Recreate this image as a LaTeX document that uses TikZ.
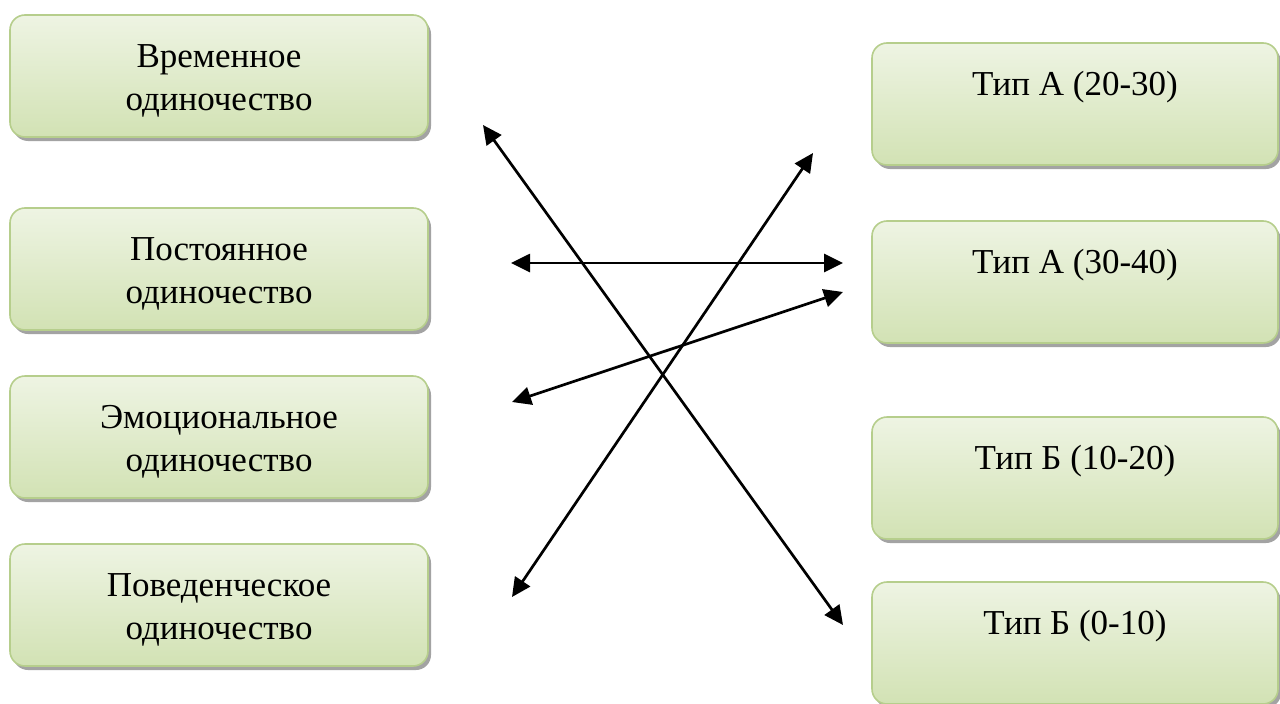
\documentclass[tikz,border=0pt]{standalone}
\usepackage{fontspec}
\setmainfont{Liberation Serif}
\usetikzlibrary{arrows.meta,shadows}
\definecolor{boxborder}{HTML}{B6CE8C}
\definecolor{boxtop}{HTML}{EEF4E3}
\definecolor{boxmid}{HTML}{F8FBF2}
\definecolor{boxbot}{HTML}{D2E2B4}
\definecolor{shadowgray}{HTML}{A3A3A3}
\tikzset{
  card/.style={draw=boxborder, line width=1.6pt, rounded corners=15pt,
    top color=boxtop, middle color=boxmid, bottom color=boxbot,
    general shadow={fill=shadowgray, shadow xshift=3pt, shadow yshift=-4pt},
    inner sep=0pt, align=center,
    font=\fontsize{35}{43}\selectfont},
  leftcard/.style={card, minimum width=418pt, minimum height=122pt,
    text height=68pt, text depth=0pt},
  rightcard/.style={card, minimum width=406pt, minimum height=122pt,
    text height=25pt, text depth=43pt},
  link/.style={line width=2.7pt, black,
    {Triangle[length=19pt,width=18pt]}-{Triangle[length=19pt,width=18pt]}}
}
\begin{document}
\begin{tikzpicture}[x=1pt,y=-1pt]
\useasboundingbox (0,0) rectangle (1280,704);
\clip (0,0) rectangle (1280,704);
\fill[white] (0,0) rectangle (1280,704);
% left column
\node[leftcard] (l1) at (219,76) {Временное\\одиночество};
\node[leftcard] (l2) at (219,269) {Постоянное\\одиночество};
\node[leftcard] (l3) at (219,437) {Эмоциональное\\одиночество};
\node[leftcard] (l4) at (219,605) {Поведенческое\\одиночество};
% right column
\node[rightcard] (r1) at (1075,104) {Тип А (20-30)};
\node[rightcard] (r2) at (1075,282) {Тип А (30-40)};
\node[rightcard] (r3) at (1075,478) {Тип Б (10-20)};
\node[rightcard] (r4) at (1075,643) {Тип Б (0-10)};
% arrow end points
\coordinate (a1s) at (483,125);
\coordinate (a1e) at (843,625);
\coordinate (a2s) at (512,597);
\coordinate (a2e) at (813,153);
\coordinate (a3s) at (511,263);
\coordinate (a3e) at (843,263);
\coordinate (a4s) at (512,402);
\coordinate (a4e) at (843,292);
\draw[link] (a1s) -- (a1e);
\draw[link] (a2s) -- (a2e);
\draw[link] (a3s) -- (a3e);
\draw[link] (a4s) -- (a4e);
\end{tikzpicture}
\end{document}
